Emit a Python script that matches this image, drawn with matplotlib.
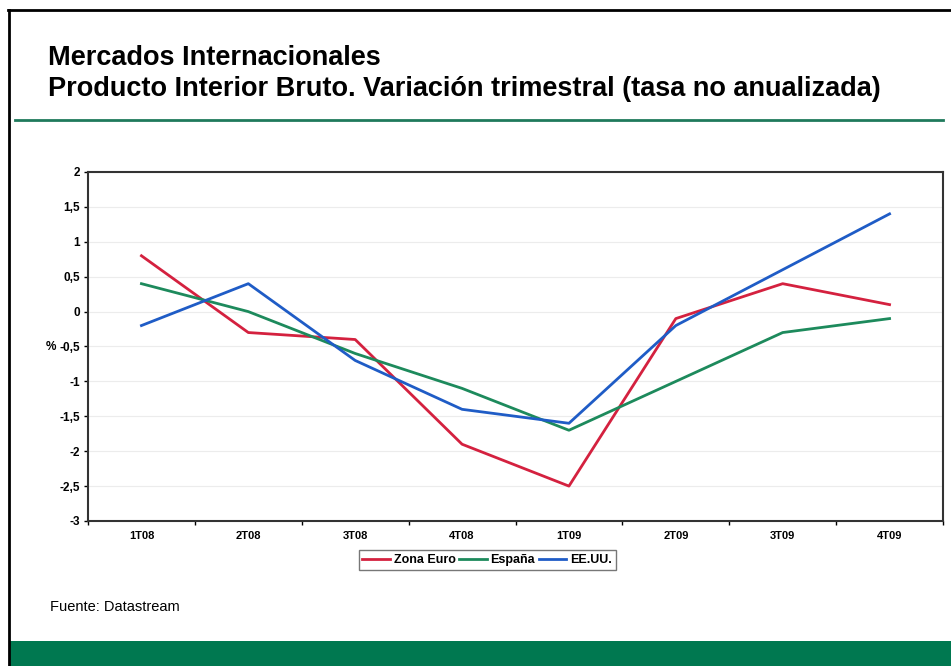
import matplotlib
matplotlib.use("Agg")
import matplotlib.pyplot as plt
from matplotlib.lines import Line2D
from matplotlib.patches import Rectangle

categories = ["1T08", "2T08", "3T08", "4T08", "1T09", "2T09", "3T09", "4T09"]
zona_euro = [0.8, -0.3, -0.4, -1.9, -2.5, -0.1, 0.4, 0.1]
espana = [0.4, 0.0, -0.6, -1.1, -1.7, -1.0, -0.3, -0.1]
eeuu = [-0.2, 0.4, -0.7, -1.4, -1.6, -0.2, 0.6, 1.4]
yticks = [2, 1.5, 1, 0.5, 0, -0.5, -1, -1.5, -2, -2.5, -3]
ytick_labels = ["2", "1,5", "1", "0,5", "0", "-0,5", "-1", "-1,5", "-2", "-2,5", "-3"]

W, H = 951, 666
fig = plt.figure(figsize=(W / 100, H / 100), dpi=100)
plt.rcParams['font.family'] = ['Liberation Sans', 'DejaVu Sans']

def fx(px):
    return px / W

def fy(py):
    return 1 - py / H

# slide frame
fig.add_artist(Line2D([fx(8), 1], [fy(10), fy(10)], color="black", lw=2))
fig.add_artist(Line2D([fx(9), fx(9)], [fy(10), 0], color="black", lw=2))
fig.add_artist(Rectangle((fx(10), 0), 1 - fx(10), fy(641), color="#007850", lw=0))
fig.add_artist(Line2D([fx(15), fx(943)], [fy(120), fy(120)], color="#1f7a5c", lw=2))

fig.text(fx(48), fy(58), "Mercados Internacionales", fontsize=19.5, fontweight="bold",
         va="center", ha="left")
fig.text(fx(48), fy(89), "Producto Interior Bruto. Variación trimestral (tasa no anualizada)",
         fontsize=19.5, fontweight="bold", va="center", ha="left")
fig.text(fx(50), fy(607), "Fuente: Datastream", fontsize=10.5, va="center", ha="left")

ax = fig.add_axes([fx(88), fy(521), fx(943) - fx(88), fy(172) - fy(521)])
x = list(range(len(categories)))
ax.plot(x, zona_euro, color="#d4213f", lw=2, label="Zona Euro")
ax.plot(x, espana, color="#1d8a5c", lw=2, label="España")
ax.plot(x, eeuu, color="#1f5cc6", lw=2, label="EE.UU.")

ax.set_xlim(-0.5, len(categories) - 0.5)
ax.set_ylim(-3, 2)
ax.set_yticks(yticks)
ax.set_yticklabels(ytick_labels, fontsize=8.5, fontweight="bold")
ax.set_xticks(x)
ax.set_xticklabels(categories, fontsize=8, fontweight="bold")
ax.tick_params(axis="x", length=0, pad=7)
ax.set_xticks([i + 0.5 for i in range(-1, len(categories))], minor=True)
ax.tick_params(axis="x", which="minor", length=3, width=1, direction="out")
ax.tick_params(axis="y", length=3, width=1, pad=3)
ax.grid(axis="y", color="#ececec", lw=0.8)
ax.set_axisbelow(True)
for s in ax.spines.values():
    s.set_linewidth(1.5)
    s.set_color("#333333")
ax.set_ylabel("%", rotation=0, fontsize=8.5, fontweight="bold", labelpad=6, va="center")

leg = fig.legend(loc="center", bbox_to_anchor=(fx(487), fy(560)), ncol=3,
                 frameon=True, fancybox=False, edgecolor="#555555", handlelength=2.2,
                 handletextpad=0.3, columnspacing=0.3, borderpad=0.3,
                 prop={"weight": "bold", "size": 9})
leg.get_frame().set_linewidth(1)

fig.savefig("out.png", dpi=100)
